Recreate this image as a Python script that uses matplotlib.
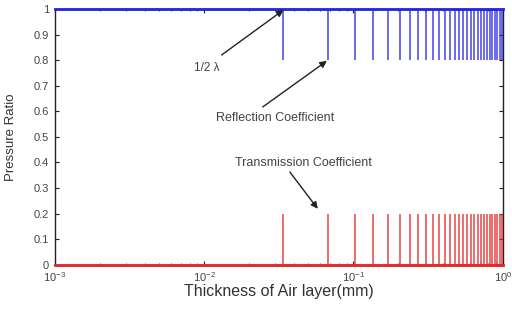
import matplotlib
matplotlib.use('Agg')
from matplotlib import pyplot as plt
from matplotlib.ticker import NullFormatter

plt.rcParams['font.family'] = ['Liberation Sans', 'DejaVu Sans']

# resonance thickness (mm), multiples of half wavelength
spike_x = [0.034, 0.068, 0.102, 0.136, 0.170, 0.204, 0.238, 0.272, 0.306, 0.340,
           0.374, 0.408, 0.442, 0.476, 0.510, 0.544, 0.578, 0.612, 0.646, 0.680,
           0.714, 0.748, 0.782, 0.816, 0.850, 0.884, 0.918, 0.952, 0.986]
refl_base = 1.0
refl_dip = 0.8
trans_base = 0.0
trans_peak = 0.2

x_min, x_max = 1e-3, 1.0
y_ticks = [0, 0.1, 0.2, 0.3, 0.4, 0.5, 0.6, 0.7, 0.8, 0.9, 1]
y_labels = ['0', '0.1', '0.2', '0.3', '0.4', '0.5', '0.6', '0.7', '0.8', '0.9', '1']

fig = plt.figure(figsize=(5.12, 3.18), dpi=100)
ax = fig.add_axes([0.107, 0.167, 0.875, 0.805])

blue = '#2424e6'
red = '#e62424'

# reflection: baseline at 1, dips to 0.8
ax.plot([x_min, x_max], [refl_base, refl_base], color=blue, lw=2.0, zorder=3, clip_on=False)
ax.vlines(spike_x, refl_dip, refl_base, color=blue, lw=1.1, alpha=0.85, zorder=3)
# transmission: baseline at 0, peaks at 0.2
ax.plot([x_min, x_max], [trans_base, trans_base], color=red, lw=2.0, zorder=3, clip_on=False)
ax.vlines(spike_x, trans_base, trans_peak, color=red, lw=1.1, alpha=0.85, zorder=3)

ax.set_xscale('log')
ax.set_xlim(x_min, x_max)
ax.set_ylim(0, 1)
ax.set_yticks(y_ticks)
ax.set_yticklabels(y_labels)
ax.set_xticks([1e-3, 1e-2, 1e-1, 1e0])
ax.xaxis.set_minor_formatter(NullFormatter())

ax.tick_params(which='both', direction='in', top=True, right=True,
               labelsize=8, labelcolor='#444444', color='#222222')
ax.tick_params(which='major', length=3)
ax.tick_params(which='minor', length=1.5)
ax.tick_params(axis='x', pad=3.5)
ax.tick_params(axis='y', pad=4)

for s in ax.spines.values():
    s.set_color('#222222')
    s.set_linewidth(1.0)

ax.set_xlabel('Thickness of Air layer(mm)', fontsize=11.5, color='#333333', labelpad=0)
ax.set_ylabel('Pressure Ratio', fontsize=9.5, color='#333333')
ax.yaxis.set_label_coords(-0.084, 0.5)

# arrows
akw = dict(arrowstyle='-|>', color='#222222', lw=1.0, mutation_scale=10,
           shrinkA=0, shrinkB=0)
ax.annotate('', xy=(spike_x[0], 0.996), xytext=(0.0131, 0.82), arrowprops=akw)
ax.annotate('', xy=(0.0664, 0.797), xytext=(0.0247, 0.617), arrowprops=akw)
ax.annotate('', xy=(0.0577, 0.219), xytext=(0.0375, 0.363), arrowprops=akw)

# labels
tkw = dict(ha='center', va='center', color='#444444')
ax.text(0.0104, 0.77, '1/2 \u03bb', fontsize=8.5, **tkw)
ax.text(0.0298, 0.574, 'Reflection Coefficient', fontsize=9, **tkw)
ax.text(0.0466, 0.398, 'Transmission Coefficient', fontsize=9, **tkw)

fig.savefig('out.png', dpi=100)
